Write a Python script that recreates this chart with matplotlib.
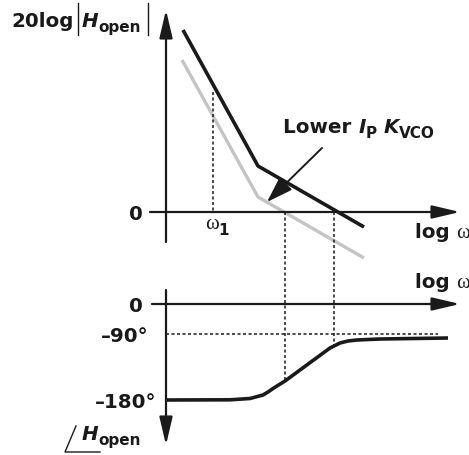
import numpy as np
import matplotlib
matplotlib.use('Agg')
import matplotlib.pyplot as plt
import matplotlib.transforms as mtrans

# diagram units: x = log(omega) position, 1 unit = 10 px; origin at the vertical axes
# magnitude (upper plot), corner points of the asymptotic curves
mag_x = [1.7, 9.2, 19.8]
mag_black = [18.2, 4.6, -1.5]
mag_gray_x = [1.6, 9.2, 19.8]
mag_gray = [15.2, 1.5, -4.6]
w1_x = 4.7
w1_top = 12.0

# phase (lower plot), schematic levels
phase_x = [0, 6.4, 8.4, 9.7, 10.2, 10.7, 11.9, 16.4, 16.9, 17.4, 18.2, 19.1, 21.4, 28.2]
phase_y = [-9.6, -9.58, -9.45, -9.1, -8.8, -8.45, -7.7, -4.4, -4.15, -3.9, -3.7, -3.6, -3.5, -3.4]
phase_levels = [0, -3.0, -9.6]
phase_labels = ['0', '\u201390\u00b0', '\u2013180\u00b0']
crossover_x = [11.9, 16.8]

BLACK = '#1a1a1a'
GRAY = '#c4c4c4'
W, H = 469, 455

fig = plt.figure(figsize=(W / 100, H / 100), dpi=100)
ax = fig.add_axes([0, 0, 1, 1])          # pixel coords, for labels
ax.set_xlim(0, W)
ax.set_ylim(H, 0)
ax.axis('off')

ax_mag = fig.add_axes([0, 0, 1, 1], frameon=False)
ax_mag.set_xlim(-16.6, (W - 166) / 10)
ax_mag.set_ylim((212 - H) / 10, 21.2)
ax_mag.axis('off')

ax_ph = fig.add_axes([0, 0, 1, 1], frameon=False)
ax_ph.set_xlim(-16.6, (W - 166) / 10)
ax_ph.set_ylim((304 - H) / 10, 30.4)
ax_ph.axis('off')

arrow = dict(arrowstyle='-|>,head_length=0.85,head_width=0.2', lw=1.6,
             color=BLACK, mutation_scale=20, shrinkA=0, shrinkB=0)

# axes of the magnitude plot
ax_mag.annotate('', xy=(0, 20.2), xytext=(0, -3.0), arrowprops=arrow)
ax_mag.annotate('', xy=(29.4, 0), xytext=(-1.6, 0), arrowprops=arrow)
# axes of the phase plot
ax_ph.annotate('', xy=(0, -14.1), xytext=(0, 1.4), arrowprops=arrow)
ax_ph.annotate('', xy=(29.4, 0), xytext=(-1.4, 0), arrowprops=arrow)

dash = (0, (2.0, 1.6))
ax_mag.plot(mag_gray_x, mag_gray, color=GRAY, lw=2.4, solid_capstyle='butt', zorder=2)
ax_mag.plot(mag_x, mag_black, color=BLACK, lw=2.6, solid_capstyle='butt', zorder=3)
ax_mag.plot([w1_x, w1_x], [w1_top, 0], color=BLACK, lw=1.1, ls=dash)

# crossover lines from 0 dB down to the phase curve
mag_zero_in_ph = 9.2
for cx in crossover_x:
    ax_ph.plot([cx, cx], [mag_zero_in_ph, np.interp(cx, phase_x, phase_y)],
               color=BLACK, lw=1.1, ls=dash)
ax_ph.plot([0, 27.2], [phase_levels[1]] * 2, color=BLACK, lw=1.1, ls=dash)
ax_ph.plot(phase_x, phase_y, color=BLACK, lw=2.6, solid_capstyle='butt',
           solid_joinstyle='round', zorder=3)

# arrow "Lower Ip Kvco"
ax.annotate('', xy=(267, 202), xytext=(322, 148),
            arrowprops=dict(arrowstyle='-|>,head_length=0.9,head_width=0.3', lw=1.4,
                            color=BLACK, mutation_scale=18, shrinkA=0, shrinkB=0))

renderer = fig.canvas.get_renderer()
SANS = 'DejaVu Sans'
SERIF = 'Liberation Serif'


def runs(x, y, parts):
    for s, kw in parts:
        kw = dict(kw)
        dy = kw.pop('dy', 0)
        t = ax.text(x, y + dy, s, ha='left', va='baseline', color=BLACK, **kw)
        x += t.get_window_extent(renderer).width
    return x


big = dict(family=SANS, weight='bold', fontsize=14.3)
bigit = dict(family=SANS, weight='bold', style='italic', fontsize=14.3)
sub = dict(family=SANS, weight='bold', fontsize=11, dy=5)
omega = dict(family=SERIF, fontsize=15)

# top-left label 20log|H_open|
runs(11, 27, [('20log', big)])
runs(82, 27, [('H', bigit), ('open', sub)])
ax.plot([78, 78], [3, 35], color=BLACK, lw=1.0)
ax.plot([148, 148], [3, 35], color=BLACK, lw=1.0)

# bottom-left label angle H_open
runs(82, 440, [('H', bigit), ('open', sub)])
ax.plot([76, 65, 100], [426, 452, 452], color=BLACK, lw=1.0)

runs(283, 133, [('Lower ', big), ('I', bigit), ('P', sub), (' ', big),
                ('K', bigit), ('VCO', sub)])

# log omega labels
for yb in [238, 288]:
    runs(415, yb, [('log ', big), ('\u03c9', omega)])

# omega_1
runs(205, 229, [('\u03c9', omega),
                ('1', dict(family=SANS, weight='bold', fontsize=11, dy=6))])

# zero of the magnitude plot
ax.text(143, 212, '0', ha='right', va='center_baseline', color=BLACK, **big)
# phase levels
for lvl, lab, xr in zip(phase_levels, phase_labels, [143, 148, 156]):
    ax_ph.text(0, lvl, lab, ha='right', va='center_baseline', color=BLACK,
               transform=ax_ph.transData + mtrans.ScaledTranslation(
                   (xr - 166) / 100, 0, fig.dpi_scale_trans), **big)

fig.savefig('out.png', dpi=100)
